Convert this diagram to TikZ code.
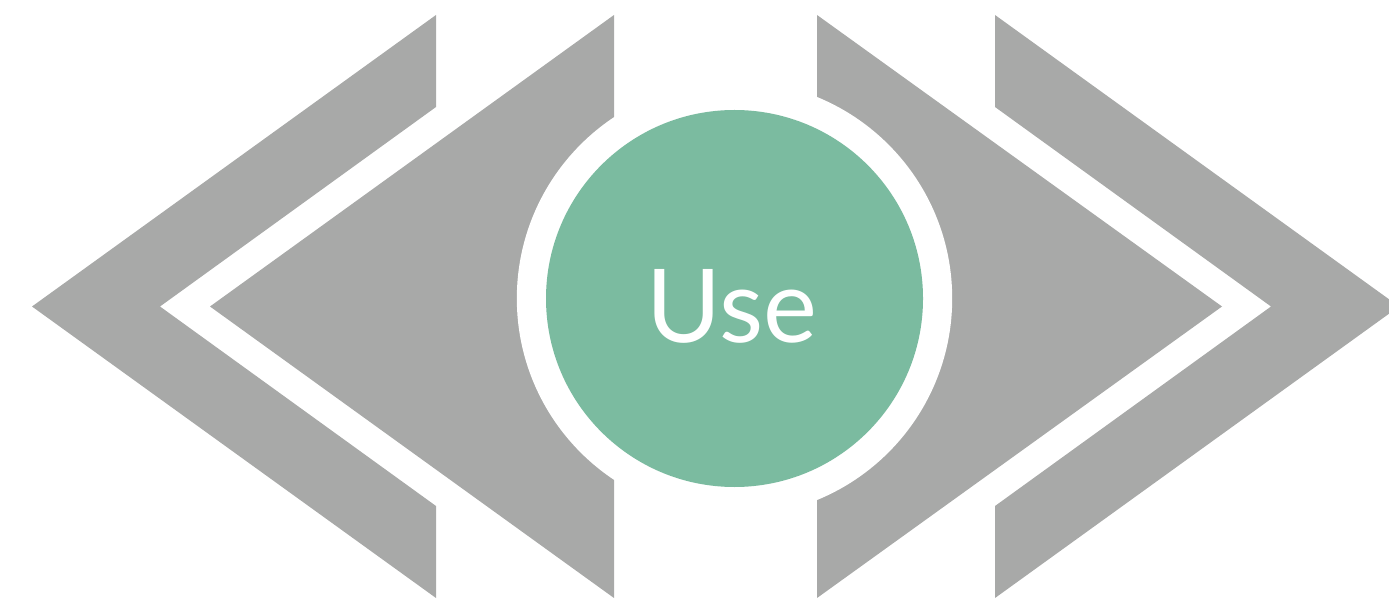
\documentclass[tikz,border=0pt]{standalone}
\usepackage{fontspec}
\setmainfont{Lato}
\usetikzlibrary{calc}
\definecolor{chevgray}{HTML}{A8A9A8}
\definecolor{usegreen}{HTML}{7BBBA0}
\tikzset{chev/.style={fill=chevgray}}

\begin{document}
\begin{tikzpicture}[x=0.01cm,y=0.01cm]
  \useasboundingbox (0,0) rectangle (1389,600);

%outer left
  \coordinate (OlA) at (436,585);
  \coordinate (OlB) at (32,293.5);
  \coordinate (OlC) at (436,2);
  \coordinate (OlD) at (436,94);
  \coordinate (OlE) at (160,293.5);
  \coordinate (OlF) at (436,493);
  \fill[chev] (OlA) -- (OlB) -- (OlC) -- (OlD) -- (OlE) -- (OlF) -- cycle;

%inner left
  \coordinate (IlA) at (614,585);
  \coordinate (IlB) at (210,293.5);
  \coordinate (IlC) at (614,2);
  \fill[chev] (IlA) -- (IlB) -- (IlC) -- cycle;

%inner right
  \coordinate (IrA) at (817,585);
  \coordinate (IrB) at (1222,293.5);
  \coordinate (IrC) at (817,2);
  \fill[chev] (IrA) -- (IrB) -- (IrC) -- cycle;

%outer right
  \coordinate (OrA) at (995,585);
  \coordinate (OrB) at (1399,293.5);
  \coordinate (OrC) at (995,2);
  \coordinate (OrD) at (995,94);
  \coordinate (OrE) at (1271,293.5);
  \coordinate (OrF) at (995,493);
  \fill[chev] (OrA) -- (OrB) -- (OrC) -- (OrD) -- (OrE) -- (OrF) -- cycle;

%circle
  \coordinate (M) at (734.5,301.5);
  \coordinate (T) at (732,294);
  \fill[white] (M) circle (217.7);
  \fill[usegreen] (M) circle (188.5);
  \node[text=white, font=\fontsize{29}{29}\selectfont] (use) at (T) {Use};

\end{tikzpicture}
\end{document}
